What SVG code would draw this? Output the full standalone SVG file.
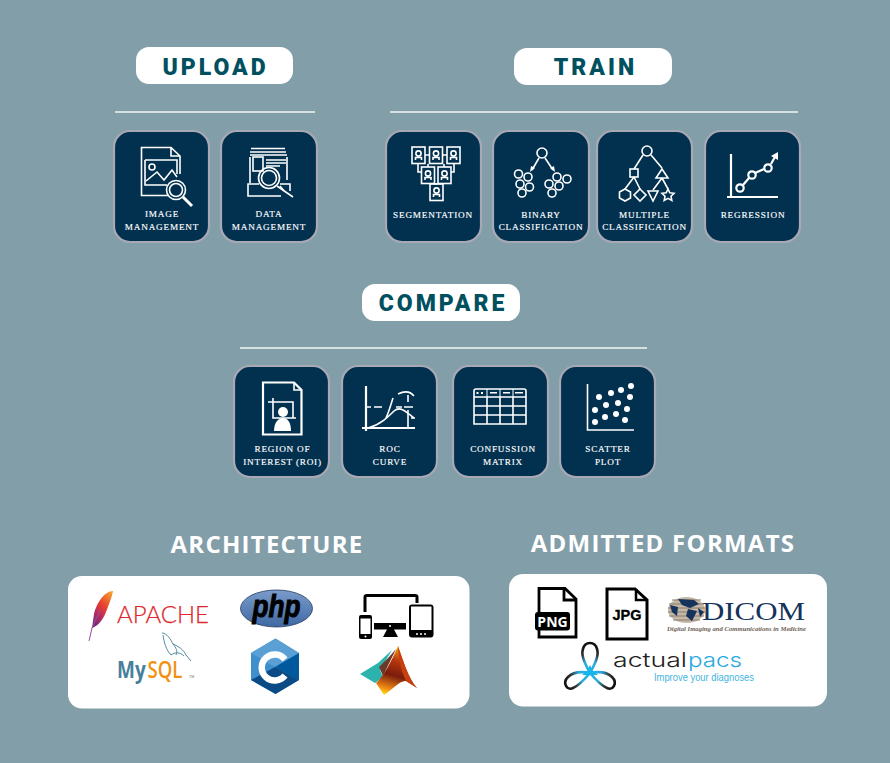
<svg xmlns="http://www.w3.org/2000/svg" width="890" height="763" viewBox="0 0 890 763">
<style>
.pill{fill:#fff}
.rule{stroke:#f2f5f6;stroke-width:1.5;fill:none}
.ttl{font-family:"Roboto","Liberation Sans",sans-serif;font-weight:900;font-size:23px;letter-spacing:3px;fill:#00505f;text-anchor:middle}
.card{fill:#02304f;stroke:#a9a9b6;stroke-width:2.2}
.lbl{font-family:"Liberation Serif",serif;font-size:9.2px;letter-spacing:.8px;fill:#fff;stroke:#fff;stroke-width:.15px;text-anchor:middle}
.ic{fill:none;stroke:#fff;stroke-width:1.6;stroke-linejoin:miter}
.icb{fill:none;stroke:#fff;stroke-width:2.2}
.wf{fill:#fff;stroke:none}
.hd{font-family:"Open Sans","Liberation Sans",sans-serif;font-weight:700;font-size:24px;letter-spacing:1.25px;fill:#fff;text-anchor:middle}
.panel{fill:#fff}
</style>
<defs>
<linearGradient id="fe" x1="0.8" y1="0" x2="0.2" y2="1"><stop offset="0" stop-color="#f39a2e"/><stop offset=".4" stop-color="#e8412f"/><stop offset=".7" stop-color="#b52a5f"/><stop offset="1" stop-color="#6a2c80"/></linearGradient>
<linearGradient id="ph" x1="0" y1="0" x2="0" y2="1"><stop offset="0" stop-color="#7a9ccb"/><stop offset="1" stop-color="#3f68a3"/></linearGradient>
<linearGradient id="ma" gradientUnits="userSpaceOnUse" x1="384" y1="695" x2="398" y2="646"><stop offset="0" stop-color="#ffe81a"/><stop offset=".14" stop-color="#f08a14"/><stop offset=".42" stop-color="#7a1c0c"/><stop offset=".72" stop-color="#b8380e"/><stop offset=".92" stop-color="#e88a14"/><stop offset="1" stop-color="#f8c820"/></linearGradient>
<radialGradient id="ap" gradientUnits="userSpaceOnUse" cx="590" cy="673" r="27"><stop offset="0" stop-color="#18b5ea"/><stop offset=".42" stop-color="#2aa9e0"/><stop offset=".72" stop-color="#333"/><stop offset="1" stop-color="#111"/></radialGradient>
<g id="seg"><rect x="0" y="0" width="13" height="16.500" class="ic"/><circle cx="6.500" cy="6.500" r="2.600" class="ic"/><path d="M3.500 13V10.500H9.500V13" class="ic"/></g>
</defs>
<rect width="890" height="763" fill="#829ea9"/>

<g id="upload-header"><rect class="pill" x="136" y="47" width="157" height="37" rx="13"/><text class="ttl" x="215.500" y="75">UPLOAD</text><line class="rule" x1="115" y1="112" x2="315" y2="112"/></g>
<g id="train-header"><rect class="pill" x="514" y="48" width="158" height="37" rx="13"/><text class="ttl" x="595.500" y="75">TRAIN</text><line class="rule" x1="390" y1="112" x2="798" y2="112"/></g>
<g id="compare-header"><rect class="pill" x="362" y="284" width="158" height="37" rx="13"/><text class="ttl" x="443" y="311">COMPARE</text><line class="rule" x1="240" y1="348" x2="647" y2="348"/></g>

<g id="image-management"><rect class="card" x="114" y="131" width="95" height="111" rx="16"/>
<path class="ic" d="M168 195.500H141.500V147.500H171L180 156V174M171 147.500V156H180"/><path class="ic" d="M145 160H177V174M145 160V185H167"/><circle class="ic" cx="152" cy="167" r="3"/><path class="ic" d="M146 181L157 172L164 180L172 170L177 177"/>
<circle class="ic" cx="176" cy="190" r="9.500"/><circle class="ic" cx="176" cy="190" r="6.500"/><path d="M183 197L192 206" stroke="#fff" stroke-width="3" fill="none"/>
<text class="lbl" x="162" y="217">IMAGE</text><text class="lbl" x="162" y="230">MANAGEMENT</text></g>

<g id="data-management"><rect class="card" x="221" y="131" width="96" height="111" rx="16"/>
<path class="ic" d="M251 148.500H285M250 152H286M250 155H287M250 157V183M287 157V180"/><rect class="ic" x="253" y="157" width="10" height="14"/><path class="ic" d="M266 160H286M266 163H286M266 166H280"/>
<path class="ic" d="M281 196H248V184H259M280 184H290V191"/>
<circle class="ic" cx="269" cy="178" r="10.500"/><circle class="ic" cx="269" cy="178" r="7.500"/><path class="ic" d="M277 186L293 197"/><path class="ic" d="M280 186L284 191"/>
<text class="lbl" x="269" y="217">DATA</text><text class="lbl" x="269" y="230">MANAGEMENT</text></g>

<g id="segmentation"><rect class="card" x="386" y="131" width="95" height="111" rx="16"/>
<path class="ic" d="M425 155H429M443 155H447M418 164V172H422M454 164V172H451M428 164V167M444 164V167M436 183V185"/>
<use href="#seg" x="412" y="147"/><use href="#seg" x="429.500" y="147"/><use href="#seg" x="447" y="147"/><use href="#seg" x="421.500" y="167"/><use href="#seg" x="438" y="167"/><use href="#seg" x="430" y="184"/>
<text class="lbl" x="433" y="218">SEGMENTATION</text></g>

<g id="binary-classification"><rect class="card" x="493" y="131" width="96" height="111" rx="16"/>
<g class="ic"><circle cx="542" cy="153" r="5"/><circle cx="518.500" cy="174" r="4"/><circle cx="528" cy="177" r="4"/><circle cx="520" cy="184" r="4"/><circle cx="529.500" cy="187" r="4"/><circle cx="522" cy="193" r="4"/><circle cx="557" cy="177" r="4"/><circle cx="567" cy="179" r="4"/><circle cx="549" cy="184" r="4"/><circle cx="559" cy="186" r="4"/><circle cx="552" cy="193" r="4"/><path d="M539 158L532 170M545 158L553 170"/></g>
<path class="wf" d="M530 172L531 166L535 168ZM555 172L550 168L554 166Z"/>
<text class="lbl" x="541" y="218">BINARY</text><text class="lbl" x="541" y="230">CLASSIFICATION</text></g>

<g id="multiple-classification"><rect class="card" x="597" y="131" width="95" height="111" rx="16"/>
<g class="ic"><circle cx="647" cy="151" r="5"/><path d="M643 155L634 169M651 155L662 168M634 177L625 189M634 177L640 189M662 178L653 190M662 178L668 189"/><rect x="630" y="169" width="8" height="8"/><path d="M656 178L662 169L668 178Z"/><path d="M625 189L630.500 192V198L625 201L619.500 198V192Z"/><path d="M640 189L646 195L640 201L634 195Z"/><path d="M648 191H658L653 201Z"/><path d="M668 189L669.800 192.800L674 193.300L671 196.200L671.800 200.500L668 198.400L664.200 200.500L665 196.200L662 193.300L666.200 192.800Z"/></g>
<text class="lbl" x="644.500" y="218">MULTIPLE</text><text class="lbl" x="644.500" y="230">CLASSIFICATION</text></g>

<g id="regression"><rect class="card" x="705" y="131" width="95" height="111" rx="16"/>
<path class="icb" d="M731 154V198M727 197H778"/><path class="icb" d="M743 185L749 178M755 173L764 169M771 164L776 155"/><circle class="icb" cx="740" cy="188" r="3.700"/><circle class="icb" cx="752" cy="175" r="3.700"/><circle class="icb" cx="768" cy="168" r="3.700"/><path class="wf" d="M778 152L778 160L771 156Z"/>
<text class="lbl" x="753" y="218">REGRESSION</text></g>

<g id="roi"><rect class="card" x="234" y="366" width="95" height="111" rx="16"/>
<path class="icb" d="M263 382.500H294L301.500 390V434.500H263Z"/><path class="ic" d="M294 382.500V390H301.500"/><path class="ic" d="M273 398V418H296M268 402H293V418"/>
<circle class="wf" cx="283" cy="412" r="5"/><path class="wf" d="M274 431C274 423 278 418 283 418C288 418 291 423 291 431Z"/>
<text class="lbl" x="282.500" y="452">REGION OF</text><text class="lbl" x="282.500" y="465">INTEREST (ROI)</text></g>

<g id="roc"><rect class="card" x="342" y="366" width="95" height="111" rx="16"/>
<path class="icb" d="M366 386V431M362 428H415"/><path class="ic" d="M366 407H371M374 407H382M396 407H402M404 407H413M408 395V402M408 410V428M411 418H415"/>
<path class="ic" d="M368 428C380 425 388 417 394 411C401 405 407 413 414 418"/><path class="ic" d="M386 418C389 412 391 404 393 398"/><path class="ic" d="M398 394C404 391 410 391 414 396"/>
<text class="lbl" x="390" y="452">ROC</text><text class="lbl" x="390" y="465">CURVE</text></g>

<g id="confusion-matrix"><rect class="card" x="453" y="366" width="95" height="111" rx="16"/>
<path class="ic" d="M474 424V391Q474 389 476 389H524Q526 389 526 391V424ZM474 397H526M474 406H526M474 415H526M487 397V424M500 397V424M513 397V424"/>
<path class="wf" d="M486.500 389h1v8h-1zM499.500 389h1v8h-1zM512.500 389h1v8h-1z"/>
<path class="wf" d="M476.500 392h2v2h-2zM481 392h2v2h-2zM490 392h7v1.500h-7zM503 392h7v1.500h-7zM515 392h8v1.500h-8z"/>
<text class="lbl" x="503" y="452">CONFUSSION</text><text class="lbl" x="503" y="465">MATRIX</text></g>

<g id="scatter-plot"><rect class="card" x="560" y="366" width="95" height="111" rx="16"/>
<path class="ic" d="M587.500 384V430H634"/>
<g class="wf"><circle cx="631" cy="386" r="3"/><circle cx="621" cy="390" r="3"/><circle cx="611" cy="393" r="3"/><circle cx="599" cy="397" r="3"/><circle cx="630" cy="397" r="3"/><circle cx="618" cy="403" r="3"/><circle cx="606" cy="405" r="3"/><circle cx="595" cy="410" r="3"/><circle cx="627" cy="409" r="3"/><circle cx="616" cy="414" r="3"/><circle cx="605" cy="417" r="3"/><circle cx="595" cy="422" r="3"/><circle cx="625" cy="420" r="3"/></g>
<text class="lbl" x="608" y="452">SCATTER</text><text class="lbl" x="608" y="465">PLOT</text></g>

<g id="architecture"><text class="hd" x="267" y="553">ARCHITECTURE</text><rect class="panel" x="68" y="576" width="401.500" height="132.500" rx="14"/>
<g id="apache"><path d="M113 591C105 591 97 602 94 614L92 628C98 626 103 620 106 612C109 604 112 597 113 591Z" fill="url(#fe)"/><path d="M100 610L92 628L89 641" fill="none" stroke="#a04a9a" stroke-width="1"/>
<text x="117" y="623" font-family="Lato,'Liberation Sans',sans-serif" font-weight="300" font-size="24" fill="#e0262c" stroke="#e0262c" stroke-width=".25" textLength="92" lengthAdjust="spacingAndGlyphs">APACHE</text></g>
<g id="mysql"><path d="M162 633C167 633 171 640 173 644C178 646 184 650 186 655L191 661M163 635C164 642 166 650 171 655C175 652 180 652 184 656M173 644C176 648 178 651 176 655" fill="none" stroke="#4f8aa3" stroke-width="1"/>
<text transform="translate(117 678) scale(1 1.25)" font-family="'Open Sans','Liberation Sans',sans-serif" font-weight="700" font-size="19" fill="#487f9c">My</text><text transform="translate(147.500 678) scale(1 1.25)" font-family="'Open Sans','Liberation Sans',sans-serif" font-weight="600" font-size="18.500" fill="#f29111">SQL</text><text x="189" y="678" font-family="'Liberation Sans',sans-serif" font-size="3.500" fill="#777">TM</text></g>
<g id="php"><ellipse cx="276.500" cy="608.500" rx="36" ry="18.500" fill="url(#ph)" stroke="#223a5e" stroke-width=".8"/><text x="276.500" y="617" text-anchor="middle" font-family="'Liberation Sans',sans-serif" font-style="italic" font-weight="700" font-size="31" fill="#000" stroke="#000" stroke-width="1" textLength="48" lengthAdjust="spacingAndGlyphs">php</text></g>
<g id="clang"><path d="M275.500 638.500L299 653V680L275.500 694L251 680V653Z" fill="#3f8fcc"/><path d="M275.500 638.500L299 653L275 667L251 653Z" fill="#5ba0d5"/><path d="M275 667L299 653V680Z" fill="#00599c"/><path d="M275 667L299 680L275.500 694L251 680Z" fill="#0a4a85"/><path d="M285 659.500A13 13 0 1 0 285 675.500" fill="none" stroke="#fff" stroke-width="6.500"/></g>
<g id="devices"><path d="M365 612V597Q365 595.500 367 595.500H415Q417 595.500 417 597V603" fill="none" stroke="#000" stroke-width="3"/><path d="M374 623H406V629.500H394L398 637H383L387 629.500H374Z" fill="#000"/><circle cx="390" cy="626" r="1" fill="#fff"/><rect x="409" y="604.500" width="24.500" height="33" rx="3" fill="#000"/><rect x="411" y="606.500" width="20.500" height="23.500" fill="#fff"/><circle cx="417" cy="634" r="1" fill="#fff"/><circle cx="421" cy="634" r="1" fill="#fff"/><circle cx="425" cy="634" r="1" fill="#fff"/><rect x="359" y="615" width="13" height="24" rx="2" fill="#000"/><rect x="360.500" y="618.500" width="10" height="15.500" fill="#fff"/><circle cx="365.500" cy="636.500" r="1" fill="#fff"/></g>
<g id="matlab"><path d="M360 674L378 663L392 650L380 670L383 677L375 683Z" fill="#2db3ae"/><path d="M379 667L389 657L396 649L383 676Z" fill="#6b3a2a"/><path d="M398 646C392 660 384 676 376 683L384 695C392 690 400 680 406 681L417 688C408 678 403 660 398 646Z" fill="url(#ma)"/><path d="M398 646C403 660 408 678 417 688L406 681C402 672 398 660 398 646Z" fill="#c8400f"/></g>
</g>

<g id="formats"><text class="hd" x="663" y="552">ADMITTED FORMATS</text><rect class="panel" x="509" y="574" width="318" height="132.500" rx="14"/>
<g id="png"><path d="M539 613V588.500H565L576 599V637H539V630" fill="none" stroke="#000" stroke-width="2.800"/><path d="M564 588.500V600H576" fill="none" stroke="#000" stroke-width="2.800"/><rect x="535" y="612" width="35" height="18.500" rx="3" fill="#000"/><text x="552.500" y="626.500" text-anchor="middle" font-family="'Open Sans','Liberation Sans',sans-serif" font-weight="700" font-size="14" fill="#fff">PNG</text></g>
<g id="jpg"><path d="M607 589H635L647 600V639H607Z" fill="none" stroke="#000" stroke-width="3"/><path d="M636 589V600H647" fill="none" stroke="#000" stroke-width="2.500"/><text x="627" y="620" text-anchor="middle" font-family="'Liberation Sans',sans-serif" font-weight="700" font-size="14.500" fill="#000" stroke="#000" stroke-width=".3">JPG</text></g>
<g id="dicom"><ellipse cx="686.500" cy="610" rx="18.500" ry="13" fill="#c4b8a8"/><path d="M672 600H701M669 604H704M668 608H705M668 612H705M669 616H704M673 620H700" stroke="#8a7c6c" stroke-width="1"/><path d="M678 599L694 600L699 604L690 608L682 605ZM688 609L697 611L692 621L686 616ZM670 605L678 607L677 616L672 612ZM698 608L704 612L700 617Z" fill="#16335b"/>
<text x="702" y="620" font-family="'Liberation Serif',serif" font-size="26" fill="#16335b" textLength="103" lengthAdjust="spacingAndGlyphs">DICOM</text>
<text x="667" y="630.500" font-family="'Liberation Serif',serif" font-style="italic" font-weight="700" font-size="6.500" fill="#6e5f55" textLength="139" lengthAdjust="spacingAndGlyphs">Digital Imaging and Communications in Medicine</text></g>
<g id="actualpacs"><g fill="none" stroke="url(#ap)" stroke-width="2.600"><path d="M590 673C584 662 581 655 583 649C585 641 595 641 597 649C599 655 596 662 590 673Z"/><path d="M590 673C580 671 573 672 568 677C562 683 567 691 573 688C578 686 584 680 590 673Z"/><path d="M590 673C600 671 607 672 612 677C618 683 613 691 607 688C602 686 596 680 590 673Z"/></g><path d="M590 665L593 671L598 675L590 675L582 675L587 671Z" fill="#18b5ea"/>
<text x="613" y="667" font-family="Inter,'Liberation Sans',sans-serif" font-weight="300" font-size="20" fill="#222" textLength="74" lengthAdjust="spacingAndGlyphs">actual</text><text x="688" y="667" font-family="Inter,'Liberation Sans',sans-serif" font-weight="300" font-size="20" fill="#2aa9e0" textLength="54" lengthAdjust="spacingAndGlyphs">pacs</text>
<text x="654" y="681" font-family="'Liberation Sans',sans-serif" font-size="11.500" fill="#3fb5e0" textLength="100" lengthAdjust="spacingAndGlyphs">Improve your diagnoses</text></g>
</g>
</svg>
